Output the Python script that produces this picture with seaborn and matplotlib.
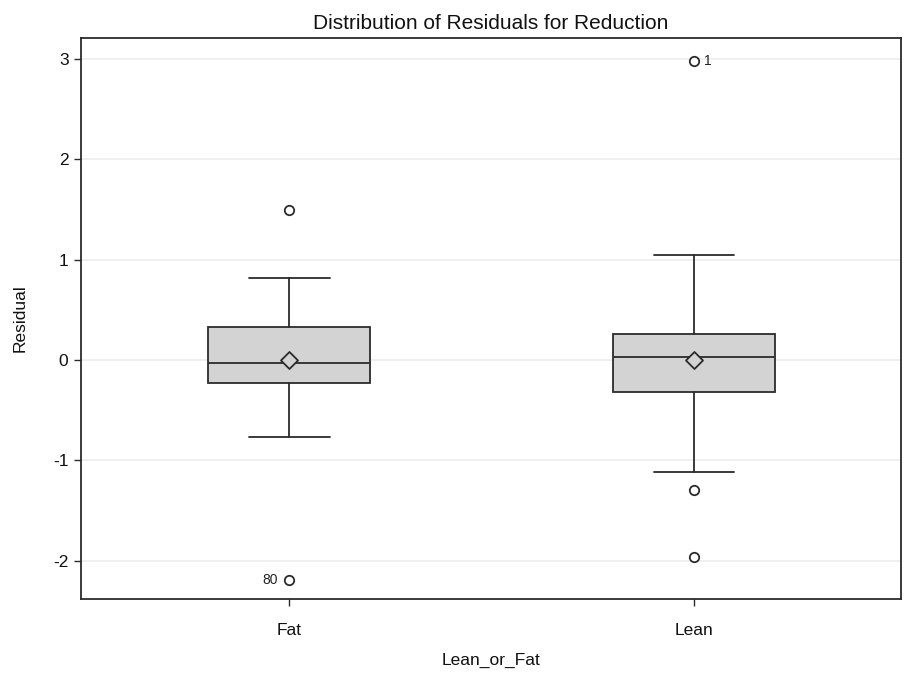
import matplotlib
matplotlib.use("Agg")
import matplotlib.pyplot as plt
import seaborn as sns
import pandas as pd

# Residual summary per group
groups = ["Fat", "Lean"]
q1 = [-0.23, -0.32]
median = [-0.03, 0.03]
q3 = [0.33, 0.26]
whisker_low = [-0.77, -1.11]
whisker_high = [0.82, 1.05]
means = [0.0, 0.0]

# Outlying residuals: group, value, observation id ("" = unlabelled)
outlier_group = ["Fat", "Fat", "Lean", "Lean", "Lean"]
outlier_value = [1.50, -2.19, 2.98, -1.29, -1.96]
outlier_id = ["", "80", "1", "", ""]

y_ticks = [-2, -1, 0, 1, 2, 3]

sns.set_theme(style="white")
plt.rcParams["font.family"] = ["Liberation Sans", "DejaVu Sans"]

fig = plt.figure(figsize=(9.11, 6.73), dpi=100)
ax = fig.add_axes([0.0889, 0.110, 0.900, 0.8335])

pos = {g: i for i, g in enumerate(groups)}
stats = []
for i, g in enumerate(groups):
    stats.append(dict(label=g, q1=q1[i], med=median[i], q3=q3[i],
                      whislo=whisker_low[i], whishi=whisker_high[i],
                      mean=means[i], fliers=[]))

edge = "#2b2b2b"
ax.bxp(stats, positions=list(range(len(groups))), widths=0.4,
       showmeans=False, showfliers=False, patch_artist=True,
       boxprops=dict(facecolor="#d3d3d3", edgecolor=edge, linewidth=1.3),
       medianprops=dict(color=edge, linewidth=1.3),
       whiskerprops=dict(color=edge, linewidth=1.3),
       capprops=dict(color=edge, linewidth=1.3),
       capwidths=0.2, zorder=3)

mean_df = pd.DataFrame({"x": [pos[g] for g in groups], "y": means})
sns.scatterplot(data=mean_df, x="x", y="y", marker="D", s=75,
                facecolor="#d3d3d3", edgecolor=edge, linewidth=1.3,
                ax=ax, zorder=4)

out_df = pd.DataFrame({"x": [pos[g] for g in outlier_group],
                       "y": outlier_value, "id": outlier_id})
sns.scatterplot(data=out_df, x="x", y="y", marker="o", s=46,
                facecolor="white", edgecolor=edge, linewidth=1.3,
                ax=ax, zorder=4)

# Observation numbers next to the extreme points
for _, r in out_df.iterrows():
    if not r["id"]:
        continue
    if r["y"] > 0:
        ax.annotate(r["id"], (r["x"], r["y"]), xytext=(7, 0),
                    textcoords="offset points", ha="left", va="center",
                    fontsize=10, color="#222222")
    else:
        ax.annotate(r["id"], (r["x"], r["y"]), xytext=(-8, 0),
                    textcoords="offset points", ha="right", va="center",
                    fontsize=10, color="#222222")

ax.set_xlim(-0.514, 1.511)
ax.set_ylim(-2.38, 3.21)
ax.set_xticks(range(len(groups)))
ax.set_xticklabels(groups)
ax.set_yticks(y_ticks)
ax.set_yticklabels([str(t) for t in y_ticks])
for t in y_ticks:
    ax.axhline(t, color="#ececec", linewidth=1.2, zorder=0)

for s in ax.spines.values():
    s.set_color("#2b2b2b")
    s.set_linewidth(1.3)
ax.tick_params(axis="both", direction="out", length=5, width=1.0,
               color="#2b2b2b", labelsize=12.5, labelcolor="#111111",
               bottom=True, left=True)
ax.tick_params(axis="x", pad=12)
ax.tick_params(axis="y", pad=4)

ax.set_xlabel("Lean_or_Fat", fontsize=12.5, color="#111111", labelpad=11)
ax.set_ylabel("Residual", fontsize=12.5, color="#111111", labelpad=18)
ax.set_title("Distribution of Residuals for Reduction", fontsize=15,
             color="#111111", pad=6.5)

fig.savefig("out.png", dpi=100)
